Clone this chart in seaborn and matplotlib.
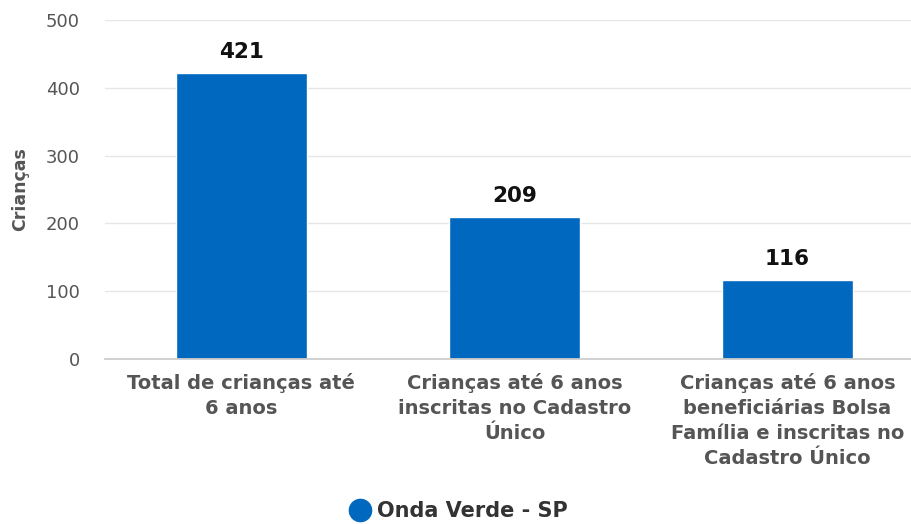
import matplotlib
matplotlib.use("Agg")
import matplotlib.pyplot as plt
from matplotlib.lines import Line2D
import seaborn as sns
import pandas as pd

categorias = [
    "Total de crianças até\n6 anos",
    "Crianças até 6 anos\ninscritas no Cadastro\nÚnico",
    "Crianças até 6 anos\nbeneficiárias Bolsa\nFamília e inscritas no\nCadastro Único",
]
valores = [421, 209, 116]
serie = "Onda Verde - SP"

azul = "#0068BE"
cinza = "#555555"

sns.set_theme(style="white")
plt.rcParams["font.family"] = ["DejaVu Sans"]

df = pd.DataFrame({"categoria": categorias, "valor": valores})

fig = plt.figure(figsize=(9.12, 5.24), dpi=100)
ax = fig.add_axes([0.115, 0.315, 0.885, 0.647])

sns.barplot(data=df, x="categoria", y="valor", color=azul, width=0.48,
            saturation=1, ax=ax)

for i, v in enumerate(valores):
    ax.annotate(str(v), (i, v), xytext=(0, 8), textcoords="offset points",
                ha="center", va="bottom", fontsize=15.5, fontweight="bold",
                color="#111111")

ax.set_ylim(0, 500)
ax.set_xlim(-0.5, 2.456)
ax.set_yticks([0, 100, 200, 300, 400, 500])
ax.yaxis.grid(True, color="#e6e6e6", linewidth=1)
ax.set_axisbelow(True)
ax.tick_params(axis="y", length=12, color="#e6e6e6", labelsize=13,
               labelcolor=cinza, pad=6)

# category separators on the x axis
ax.set_xticks([-0.5, 0.5, 1.5], minor=True)
ax.tick_params(axis="x", which="minor", length=8, color="#cccccc", width=1)
ax.tick_params(axis="x", which="major", length=0, labelsize=14,
               labelcolor=cinza, pad=10)
for lab in ax.get_xticklabels():
    lab.set_fontweight("bold")
    lab.set_linespacing(1.4)

for s in ["top", "right", "left"]:
    ax.spines[s].set_visible(False)
ax.spines["bottom"].set_color("#cccccc")

ax.set_xlabel("")
ax.set_ylabel("Crianças", fontsize=12.5, fontweight="bold", color=cinza)
ax.yaxis.set_label_coords(-0.094, 0.5)

handle = Line2D([], [], marker="o", linestyle="", markersize=16,
                markerfacecolor=azul, markeredgecolor=azul)
fig.legend([handle], [serie], loc="lower center", bbox_to_anchor=(0.5, -0.03),
           frameon=False, handletextpad=0.1, handlelength=1.5,
           prop={"weight": "bold", "size": 15})
for t in fig.legends[0].get_texts():
    t.set_color("#333333")

fig.savefig("out.png", dpi=100)
